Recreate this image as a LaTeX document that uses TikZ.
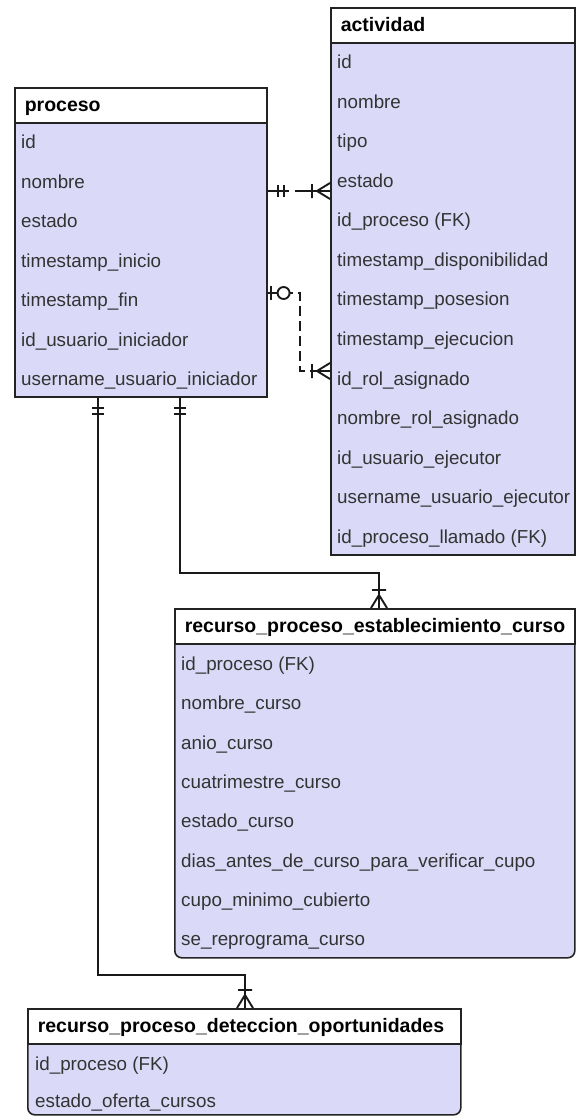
\documentclass[tikz,border=0pt]{standalone}
\usepackage{fontspec}
\setmainfont{Liberation Sans}
\usetikzlibrary{positioning,calc}
\definecolor{tabfill}{RGB}{218,218,248}
\definecolor{tabline}{RGB}{35,35,35}

\tikzset{
  tab/.style={draw=tabline, line width=1.6pt, fill=tabfill, anchor=north west, inner sep=0pt},
  tabhead/.style={draw=tabline, line width=1.6pt, fill=white, anchor=north west,
    minimum height=35pt, inner xsep=10pt, inner ysep=0pt, align=left,
    text height=15pt, text depth=2pt, font=\fontsize{19.5}{22}\selectfont\bfseries},
  row/.style={anchor=base west, inner sep=0pt, text=black!80, font=\fontsize{18.8}{22}\selectfont},
  rel/.style={line width=1.9pt, draw=black!90},
  barbar/.pic={\draw[rel] (10,-6) -- (10,6) (16,-6) -- (16,6);},
  crowbar/.pic={\draw[rel] (18,-7) -- (18,7) (13,0) -- (0,-8) (13,0) -- (0,8) (13,0) -- (0,0);},
  ringbar/.pic={\draw[rel] (3,-7) -- (3,7); \draw[rel, fill=white] (16,0) circle (6);}
}

\begin{document}
\begin{tikzpicture}[x=1pt,y=-1pt]
  \useasboundingbox (0,0) rectangle (576,1116);

  % tables
  \node[tab, minimum width=252pt, minimum height=309pt] (proceso) at (14,87) {};
  \node[tabhead, text width=232pt] (proceso-h) at (proceso.north west) {proceso};
  \foreach \fld [count=\i] in {id,nombre,estado,timestamp\_inicio,timestamp\_fin,
      id\_usuario\_iniciador,username\_usuario\_iniciador}
    { \node[row] (proceso-\i) at (21, 148.5+39.5*\i-39.5) {\fld}; }

  \node[tab, minimum width=244pt, minimum height=547pt] (actividad) at (330,7) {};
  \node[tabhead, text width=224pt] (actividad-h) at (actividad.north west) {actividad};
  \foreach \fld [count=\i] in {id,nombre,tipo,estado,id\_proceso (FK),
      timestamp\_disponibilidad,timestamp\_posesion,timestamp\_ejecucion,
      id\_rol\_asignado,nombre\_rol\_asignado,id\_usuario\_ejecutor,
      username\_usuario\_ejecutor,id\_proceso\_llamado (FK)}
    { \node[row] (actividad-\i) at (337, 68.5+39.58*\i-39.58) {\fld}; }

  \node[tab, rounded corners=7pt, minimum width=400pt, minimum height=349pt] (curso) at (174,608) {};
  \node[tabhead, text width=380pt] (curso-h) at (curso.north west) {recurso\_proceso\_establecimiento\_curso};
  \foreach \fld [count=\i] in {id\_proceso (FK),nombre\_curso,anio\_curso,cuatrimestre\_curso,
      estado\_curso,dias\_antes\_de\_curso\_para\_verificar\_cupo,cupo\_minimo\_cubierto,
      se\_reprograma\_curso}
    { \node[row] (curso-\i) at (181, 670.5+39.3*\i-39.3) {\fld}; }

  \node[tab, rounded corners=7pt, minimum width=433pt, minimum height=106pt] (deteccion) at (27,1008) {};
  \node[tabhead, text width=413pt] (deteccion-h) at (deteccion.north west) {recurso\_proceso\_deteccion\_oportunidades};
  \foreach \fld [count=\i] in {id\_proceso (FK),estado\_oferta\_cursos}
    { \node[row] (deteccion-\i) at (35, 1070.5+37*\i-37) {\fld}; }

  % relations
  \path (proceso.north east) ++(0,104) coordinate (r1s);
  \coordinate (r1e) at (r1s -| actividad.west);
  \draw[rel, dash pattern=on 21pt off 6pt on 60pt off 1pt] (r1s) -- (r1e);
  \path (r1s) pic {barbar} (r1e) pic[rotate=180] {crowbar};

  \path (proceso.north east) ++(0,206) coordinate (r2s);
  \path (actividad.north west) ++(0,364) coordinate (r2e);
  \draw[rel, dash pattern=on 10pt off 5pt] (r2s) -- ++(32,0) |- (r2e);
  \path (r2s) pic {ringbar} (r2e) pic[rotate=180] {crowbar};

  \path (proceso.south west) ++(166,0) coordinate (r3s);
  \path (curso.north west) ++(205,0) coordinate (r3e);
  \draw[rel] (r3s) |- ([yshift=35pt]r3e) -- (r3e);
  \path (r3s) pic[rotate=-90] {barbar} (r3e) pic[rotate=90] {crowbar};

  \path (proceso.south west) ++(84,0) coordinate (r4s);
  \path (deteccion.north west) ++(218,0) coordinate (r4e);
  \draw[rel] (r4s) |- ([yshift=33pt]r4e) -- (r4e);
  \path (r4s) pic[rotate=-90] {barbar} (r4e) pic[rotate=90] {crowbar};
\end{tikzpicture}
\end{document}
